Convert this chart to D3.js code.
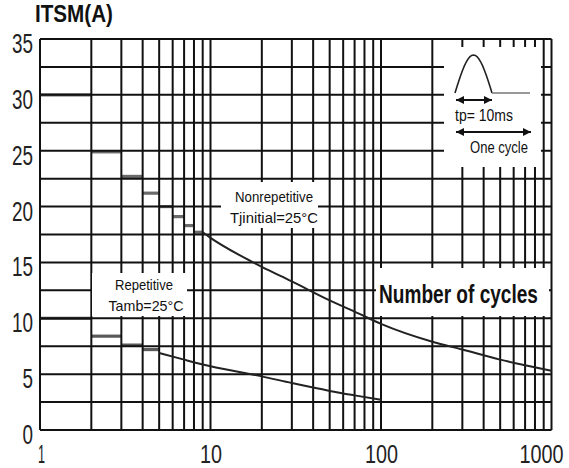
<!DOCTYPE html>
<html><head><meta charset="utf-8">
<script src="https://cdn.jsdelivr.net/npm/d3@7"></script>
<style>html,body{margin:0;padding:0;background:#fff;} svg{display:block;background:#fff;}</style>
</head><body><svg id="c" width="569" height="468"></svg>
<script>
// ---- data ----
const yTickValues = [0, 5, 10, 15, 20, 25, 30, 35];
const xTickValues = [1, 10, 100, 1000];
const nonrepStepCycles = [1, 2, 3, 4, 5, 6, 7, 8, 9];
const nonrepStepValues = [30, 24.9, 22.7, 21.2, 20, 19.1, 18.3, 17.7];
const nonrepCurveCycles = [9, 10, 15, 20, 30, 50, 70, 100, 200, 300, 500, 700, 1000];
const nonrepCurveValues = [17.7, 17.2, 15.6, 14.6, 13.3, 11.6, 10.6, 9.5, 7.9, 7.2, 6.3, 5.8, 5.3];
const repStepCycles = [1, 2, 3, 4, 5];
const repStepValues = [10, 8.4, 7.6, 7.2];
const repCurveCycles = [5, 7, 10, 20, 30, 50, 70, 100];
const repCurveValues = [6.9, 6.3, 5.7, 4.8, 4.2, 3.5, 3.1, 2.7];

// ---- layout ----
const svg = d3.select("#c");
const x = d3.scaleLog().domain([1, 1000]).range([40, 551.5]);
const y = d3.scaleLinear().domain([0, 35]).range([430, 39]);
const FONT = "'Liberation Sans', Arial, sans-serif";
const zip = (a, b) => a.map((v, i) => [v, b[i]]);

// step segments (drawn below the grid, as in the source)
function steps(cycles, values, color) {
  const segs = values.map((v, i) => [cycles[i], cycles[i + 1], v]);
  svg.append("g").selectAll("line").data(segs).join("line")
    .attr("x1", d => x(d[0])).attr("x2", d => x(d[1]))
    .attr("y1", d => y(d[2])).attr("y2", d => y(d[2]))
    .attr("stroke", color).attr("stroke-width", 3.2);
}
steps(nonrepStepCycles, nonrepStepValues, "#6a6a6a");
steps(repStepCycles, repStepValues, "#5a5a5a");

// grid
const gridX = [];
[1, 10, 100].forEach(d => { for (let k = 1; k <= 10; k++) gridX.push(d * k); });
const gridXU = Array.from(new Set(gridX));
const gridY = d3.range(0, 35.001, 2.5);
const grid = svg.append("g").attr("stroke", "#111").attr("stroke-width", 2);
grid.selectAll("line.gx").data(gridXU).join("line").attr("class", "gx")
  .attr("x1", d => x(d)).attr("x2", d => x(d)).attr("y1", y(0)).attr("y2", y(35));
grid.selectAll("line.gy").data(gridY).join("line").attr("class", "gy")
  .attr("x1", x(1)).attr("x2", x(1000)).attr("y1", d => y(d)).attr("y2", d => y(d));

// white masks for labels
const masks = [
  [221, 182, 97, 46],   // Nonrepetitive
  [92, 273, 95, 43],    // Repetitive
  [376, 268, 173, 48],  // Number of cycles
  [444, 47, 97, 120]    // inset
];
svg.append("g").selectAll("rect").data(masks).join("rect")
  .attr("x", d => d[0]).attr("y", d => d[1]).attr("width", d => d[2]).attr("height", d => d[3])
  .attr("fill", "#fff");

// curves
const lineCurve = d3.line().x(d => x(d[0])).y(d => y(d[1])).curve(d3.curveMonotoneX);
svg.append("path").attr("d", lineCurve(zip(nonrepCurveCycles, nonrepCurveValues)))
  .attr("fill", "none").attr("stroke", "#222").attr("stroke-width", 2);
svg.append("path").attr("d", lineCurve(zip(repCurveCycles, repCurveValues)))
  .attr("fill", "none").attr("stroke", "#222").attr("stroke-width", 2);

// axes labels
const yAxis = d3.axisLeft(y).tickValues(yTickValues).tickSize(0).tickPadding(7);
const gy = svg.append("g").attr("transform", `translate(${x(1)},0)`).call(yAxis);
gy.select(".domain").remove();
gy.selectAll("text").attr("font-family", FONT).attr("font-size", 27).attr("fill", "#222")
  .attr("dy", "0.5em").attr("x", -7)
  .attr("textLength", d => String(d).length * 10.5).attr("lengthAdjust", "spacingAndGlyphs");

// x tick labels: narrowed with a horizontal scale so their natural box matches
const xFont = 25, digitW = 0.556 * xFont;
const xAxis = d3.axisBottom(x).tickValues(xTickValues).tickFormat(d3.format("d")).tickSize(0).tickPadding(0);
const gx = svg.append("g").attr("transform", `translate(0,${y(0)})`).call(xAxis);
gx.select(".domain").remove();
gx.selectAll("text").each(function (d) {
  const n = String(d).length;
  const target = d === 1 ? 7 : n * 11;
  const sx = target / (n * digitW);
  const cx = d === 1000 ? 541 - x(1000) : (d === 1 ? 1 : 0);
  d3.select(this).attr("font-family", FONT).attr("font-size", xFont).attr("fill", "#222")
    .attr("dy", null).attr("y", 33).attr("x", cx / sx)
    .attr("transform", `scale(${sx},1)`);
});

// texts
function txt(s, px, py, size, len, anchor, weight) {
  svg.append("text").attr("x", px).attr("y", py).attr("font-family", FONT)
    .attr("font-size", size).attr("font-weight", weight || "normal").attr("fill", "#111")
    .attr("text-anchor", anchor || "start")
    .attr("textLength", len).attr("lengthAdjust", "spacingAndGlyphs").text(s);
}
txt("ITSM(A)", 35, 22, 24, 78, "start", "bold");
txt("Nonrepetitive", 274, 202, 15, 78, "middle");
txt("Tjinitial=25°C", 274, 223, 15, 88, "middle");
txt("Repetitive", 144, 290, 15, 58, "middle");
txt("Tamb=25°C", 146, 311, 15, 75, "middle");
txt("tp= 10ms", 455, 121, 16, 58, "start");
txt("One cycle", 470, 153, 16, 58, "start");

// "Number of cycles": bold, narrowed with a horizontal scale
const noc = svg.append("g").attr("transform", "translate(379,303) scale(0.72,1)");
noc.append("text").attr("x", 0).attr("y", 0).attr("font-family", FONT).attr("font-size", 26.5)
  .attr("font-weight", "bold").attr("fill", "#111").text("Number of cycles");

// inset pulse
const defs = svg.append("defs");
defs.append("marker").attr("id", "ah").attr("viewBox", "0 0 10 10").attr("refX", 10).attr("refY", 5)
  .attr("markerWidth", 4.5).attr("markerHeight", 4).attr("orient", "auto-start-reverse")
  .append("path").attr("d", "M0,0L10,5L0,10Z").attr("fill", "#111");
const pulse = d3.range(0, 1.0001, 0.05).map(t => [455 + 37 * t, 93 - 38 * Math.sin(Math.PI * t)]);
svg.append("path").attr("d", d3.line()(pulse)).attr("fill", "none").attr("stroke", "#222").attr("stroke-width", 1.6);
svg.append("line").attr("x1", 492).attr("x2", 530).attr("y1", 93).attr("y2", 93).attr("stroke", "#777").attr("stroke-width", 1.5);
svg.append("line").attr("x1", 456).attr("x2", 492).attr("y1", 100).attr("y2", 100)
  .attr("stroke", "#111").attr("stroke-width", 2).attr("marker-start", "url(#ah)").attr("marker-end", "url(#ah)");
svg.append("line").attr("x1", 456).attr("x2", 531).attr("y1", 132).attr("y2", 132)
  .attr("stroke", "#111").attr("stroke-width", 2).attr("marker-start", "url(#ah)").attr("marker-end", "url(#ah)");
</script></body></html>
